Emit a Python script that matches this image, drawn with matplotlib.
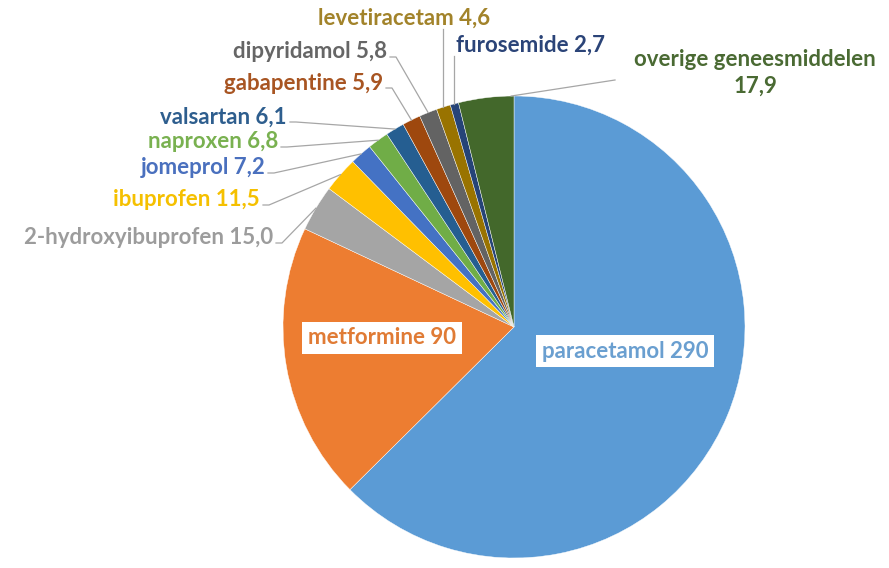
import matplotlib.pyplot as plt
import numpy as np

plt.rcParams['font.family'] = ['Lato', 'DejaVu Sans']

names = ['paracetamol', 'metformine', '2-hydroxyibuprofen', 'ibuprofen', 'jomeprol',
         'naproxen', 'valsartan', 'gabapentine', 'dipyridamol', 'levetiracetam',
         'furosemide', 'overige geneesmiddelen']
values = [290, 90, 15.0, 11.5, 7.2, 6.8, 6.1, 5.9, 5.8, 4.6, 2.7, 17.9]
value_text = ['290', '90', '15,0', '11,5', '7,2', '6,8', '6,1', '5,9', '5,8', '4,6', '2,7', '17,9']
colors = ['#5B9BD5', '#ED7D31', '#A5A5A5', '#FFC000', '#4472C4', '#70AD47',
          '#255E91', '#9E480E', '#636363', '#997300', '#264478', '#43682B']
text_colors = ['#6A9FD0', '#E07B35', '#9C9C9C', '#F5C000', '#4A70BE', '#79B150',
               '#2E5E8E', '#A85522', '#666666', '#A2832A', '#2B4478', '#4A6A33']

W, H = 889, 568
cx, cy, r = 514, H - 327, 231

fig = plt.figure(figsize=(W / 100, H / 100), dpi=100)
ax = fig.add_axes([0, 0, 1, 1])
wedges, _ = ax.pie(values, colors=colors, startangle=90, counterclock=False,
                   center=(cx, cy), radius=r,
                   wedgeprops=dict(edgecolor='white', linewidth=0.3))
ax.set_xlim(0, W)
ax.set_ylim(0, H)
ax.axis('off')

fs = 16
# label placement (pixel coords, y from top)
pos = {
    0: (625, 351, 'center'),
    1: (382, 338, 'center'),
    2: (273, 238, 'right'),
    3: (260, 200, 'right'),
    4: (265, 168, 'right'),
    5: (278, 142, 'right'),
    6: (287, 117, 'right'),
    7: (383, 83, 'right'),
    8: (387, 52, 'right'),
    9: (404, 18, 'center'),
    10: (531, 45, 'center'),
    11: (755, 73, 'center'),
}

for i, w in enumerate(wedges):
    x, y, ha = pos[i]
    if i == 11:
        label = names[i] + '\n' + value_text[i]
    else:
        label = names[i] + ' ' + value_text[i]
    box = None
    if i < 2:
        box = dict(boxstyle='square,pad=0.25', fc='white', ec='none')
    ax.text(x, H - y, label, ha=ha, va='center', color=text_colors[i],
            fontsize=fs, fontweight='bold', bbox=box, linespacing=1.3)
    if i < 2:
        continue
    frac = 0.95 if i == 11 else 0.5
    ang = np.deg2rad(w.theta2 + (w.theta1 - w.theta2) * frac)
    ex, ey = cx + r * np.cos(ang), cy + r * np.sin(ang)
    if i in (9, 10):
        pts = [(ex, H - y - 11), (ex, ey)]
    elif i == 11:
        pts = [(615, H - 80), (ex, ey)]
    else:
        pts = [(x + 3, H - y - 5), (x + 9, H - y - 5), (ex, ey)]
    ax.plot(*zip(*pts), color='#A6A6A6', lw=0.9)

fig.savefig('out.png', dpi=100, facecolor='white')
